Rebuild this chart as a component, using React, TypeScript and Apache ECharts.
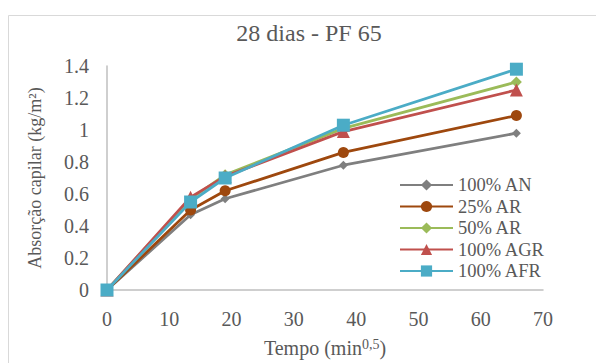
import React, { useEffect, useRef } from "react";
import * as echarts from "echarts";

const titleText = "28 dias - PF 65";
const yAxisName = "Absorção capilar (kg/m²)";
const timeSqrt = [0, 13.42, 18.97, 37.95, 65.73];
const seriesNames = ["100% AN", "25% AR", "50% AR", "100% AGR", "100% AFR"];
const an100 = [0, 0.47, 0.57, 0.78, 0.98];
const ar25 = [0, 0.5, 0.62, 0.86, 1.09];
const ar50 = [0, 0.57, 0.72, 1.01, 1.3];
const agr100 = [0, 0.58, 0.71, 0.99, 1.25];
const afr100 = [0, 0.55, 0.7, 1.03, 1.38];
const colors = ["#7F7F7F", "#9E480E", "#9BBB59", "#C0504D", "#4BACC6"];
const symbols = ["diamond", "circle", "diamond", "triangle", "rect"];
const symbolSizes = [9, 11, 11, 13, 13];

const FONT = "Liberation Serif";
const TXT = "#595959";

export default function App() {
  const ref = useRef<HTMLDivElement>(null);
  useEffect(() => {
    if (!ref.current) return;
    const chart = echarts.init(ref.current, undefined, { renderer: "svg" });
    const values = [an100, ar25, ar50, agr100, afr100];
    const series = values.map((vals, i) => ({
      name: seriesNames[i],
      type: "line",
      data: vals.map((v, j) => [timeSqrt[j], v]),
      symbol: symbols[i],
      symbolSize: symbolSizes[i],
      lineStyle: { color: colors[i], width: 2.75 },
      itemStyle: { color: colors[i] },
      z: 2 + i,
    }));
    chart.setOption({
      animation: false,
      textStyle: { fontFamily: FONT },
      graphic: [
        {
          type: "rect",
          shape: { x: 8.5, y: 15.5, width: 700, height: 500 },
          style: { fill: "none", stroke: "#D9D9D9", lineWidth: 1 },
          silent: true,
          z: -10,
        },
        {
          type: "text",
          x: 309,
          y: 33,
          style: {
            text: titleText,
            align: "center",
            verticalAlign: "middle",
            fontFamily: FONT,
            fontSize: 24,
            fill: TXT,
          },
        },
      ],
      grid: { left: 107, top: 66, right: 53, bottom: 69, containLabel: false },
      legend: {
        orient: "vertical",
        left: 399,
        top: 175,
        padding: 0,
        itemWidth: 53,
        itemHeight: 14,
        itemGap: 1.5,
        textStyle: { fontFamily: FONT, fontSize: 18.5, color: TXT, lineHeight: 20 },
        data: seriesNames,
      },
      xAxis: {
        type: "value",
        min: 0,
        max: 70,
        interval: 10,
        name: "Tempo (min{sup|0,5})",
        nameLocation: "middle",
        nameGap: 47,
        nameTextStyle: {
          fontFamily: FONT,
          fontSize: 20,
          color: TXT,
          verticalAlign: "top",
          rich: {
            sup: { fontFamily: FONT, fontSize: 14, color: TXT, verticalAlign: "top", padding: [0, 0, 8, 0] },
          },
        },
        axisLine: { lineStyle: { color: "#BFBFBF", width: 1.5 } },
        axisTick: { show: false },
        splitLine: { show: false },
        axisLabel: { fontFamily: FONT, fontSize: 20, color: TXT, margin: 19 },
      },
      yAxis: {
        type: "value",
        min: 0,
        max: 1.4,
        interval: 0.2,
        name: yAxisName,
        nameLocation: "middle",
        nameGap: 63,
        nameRotate: 90,
        nameTextStyle: { fontFamily: FONT, fontSize: 18, color: TXT },
        axisLine: { show: true, lineStyle: { color: "#BFBFBF", width: 1.5 } },
        axisTick: { show: false },
        splitLine: { show: false },
        axisLabel: { fontFamily: FONT, fontSize: 20, color: TXT, margin: 18 },
      },
      series,
    });
    return () => chart.dispose();
  }, []);
  return (
    <div
      ref={ref}
      style={{ position: "fixed", left: 0, top: 0, width: 596, height: 363, background: "#fff" }}
    />
  );
}
